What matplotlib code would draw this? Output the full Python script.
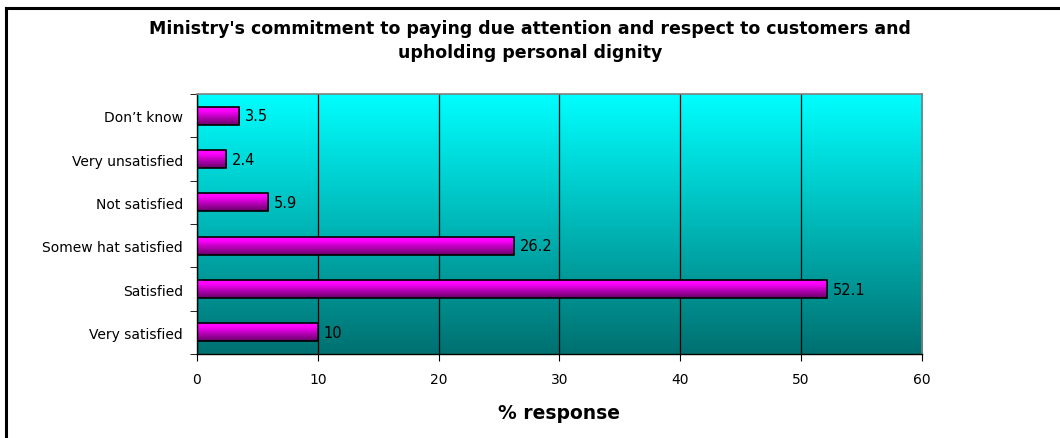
#!/usr/bin/env python3
"""Horizontal bar chart: ministry's commitment to customer respect (% response)."""

import numpy as np
import matplotlib
matplotlib.use("Agg")
import matplotlib.pyplot as plt
from matplotlib.colors import LinearSegmentedColormap
from matplotlib.lines import Line2D

plt.rcParams["font.family"] = ["DejaVu Sans"]

categories = ["Very satisfied", "Satisfied", "Somew hat satisfied",
              "Not satisfied", "Very unsatisfied", "Don\u2019t know"]
values = [10, 52.1, 26.2, 5.9, 2.4, 3.5]
value_labels = ["10", "52.1", "26.2", "5.9", "2.4", "3.5"]
x_ticks = [0, 10, 20, 30, 40, 50, 60]

title = ("Ministry's commitment to paying due attention and respect to customers and\n"
         "upholding personal dignity")

fig = plt.figure(figsize=(10.6, 4.39), dpi=100)
ax = fig.add_axes([0.1858, 0.1913, 0.6840, 0.5923])

# outer chart border (runs off right and bottom edges)
fig.add_artist(Line2D([6 / 1060, 1.0], [1 - 9 / 439, 1 - 9 / 439],
                      transform=fig.transFigure, color="black", lw=2.2))
fig.add_artist(Line2D([6 / 1060, 6 / 1060], [0.0, 1 - 9 / 439],
                      transform=fig.transFigure, color="black", lw=2.2))

# plot area gradient: cyan at top -> dark teal at bottom
bg_cmap = LinearSegmentedColormap.from_list("bg", ["#007070", "#00ffff"])
grad = np.linspace(0, 1, 256).reshape(-1, 1)
ax.imshow(grad, cmap=bg_cmap, aspect="auto", origin="lower",
          extent=[0, 1, 0, 1], transform=ax.transAxes, zorder=0)

y = np.arange(len(categories))
bars = ax.barh(y, values, height=0.42, color="none", edgecolor="black",
               linewidth=1.2, zorder=3)

# cylinder-like shading inside each bar
bar_cmap = LinearSegmentedColormap.from_list(
    "bar", [(0.0, "#660066"), (0.45, "#c000c0"), (0.75, "#ff00ff"), (1.0, "#ff10ff")])
for b in bars:
    x0, y0 = b.get_x(), b.get_y()
    im = ax.imshow(grad, cmap=bar_cmap, aspect="auto", origin="lower",
                   extent=[x0, x0 + b.get_width(), y0, y0 + b.get_height()],
                   zorder=2.5)
    im.set_clip_path(b)

for b, lab in zip(bars, value_labels):
    ax.text(b.get_width() + 0.5, b.get_y() + b.get_height() / 2, lab,
            va="center", ha="left", fontsize=10.5, zorder=4)

ax.set_xlim(0, 60)
ax.set_ylim(-0.5, len(categories) - 0.5)
ax.set_xticks(x_ticks)
ax.set_xticklabels([str(t) for t in x_ticks], fontsize=10)
ax.xaxis.grid(True, color="black", linewidth=0.9, zorder=1)
ax.set_axisbelow(True)
ax.tick_params(axis="x", direction="out", length=5, pad=8)

ax.set_yticks(y)
ax.set_yticklabels(categories, fontsize=10)
ax.set_yticks(np.arange(-0.5, len(categories)), minor=True)
ax.tick_params(axis="y", which="major", length=0, pad=10)
ax.tick_params(axis="y", which="minor", direction="out", length=5)

for side in ("top", "right"):
    ax.spines[side].set_color("#808080")
    ax.spines[side].set_linewidth(1.2)
for side in ("left", "bottom"):
    ax.spines[side].set_color("black")
    ax.spines[side].set_linewidth(1.0)

ax.set_xlabel("% response", fontsize=13.5, fontweight="bold", labelpad=12)
fig.text(0.5, 1 - 41 / 439, title, ha="center", va="center",
         fontsize=12.5, fontweight="bold", linespacing=1.4)

fig.savefig("out.png", dpi=100)
